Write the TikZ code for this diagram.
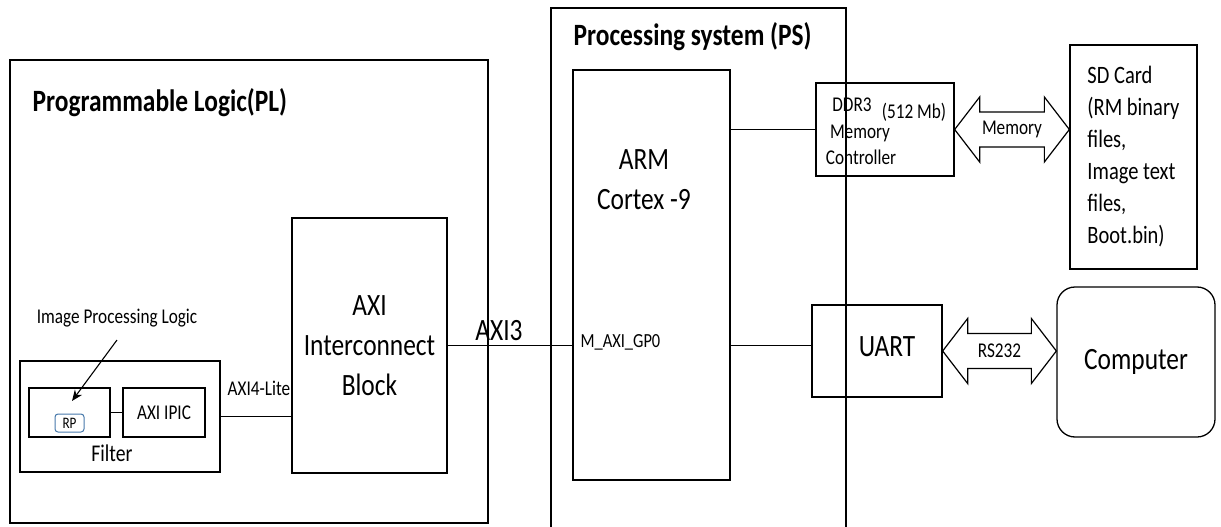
\documentclass[tikz,border=0pt]{standalone}
\usepackage{fontspec}
\setmainfont{Carlito}[FakeStretch=0.82]
\usetikzlibrary{arrows.meta,calc}
\definecolor{rpblue}{RGB}{70,120,170}
\begin{document}
\begin{tikzpicture}[x=1pt,y=-1pt,line width=1.3pt,
  box/.style={draw,line width=1.3pt,inner sep=0pt},
  sz/.style args={#1/#2}{minimum width=#1pt,minimum height=#2pt},
  txt/.style={inner sep=0pt},
  ttl/.style={txt,font=\fontsize{31}{36}\selectfont\bfseries},
  big/.style={font=\fontsize{31}{40}\selectfont},
  sml/.style={font=\fontsize{21}{26}\selectfont},
  tiny/.style={font=\fontsize{20}{24}\selectfont},
  sdf/.style={font=\fontsize{25}{32}\selectfont},
  dblarr/.style={draw,line width=1.2pt}
]
\useasboundingbox (0,0) rectangle (1221,527);

% Programmable Logic frame
\node[box,sz=478/463] (pl) at (249,291.5) {};
\node[ttl,anchor=west] (pltitle) at (32,103) {Programmable Logic(PL)};

% Processing system frame (open at bottom)
\coordinate (psbl) at (551,530);
\coordinate (pstl) at (551,8);
\coordinate (pstr) at (846,8);
\coordinate (psbr) at (846,530);
\draw (psbl) -- (pstl) -- (pstr) -- (psbr);
\node[ttl,anchor=west] (pstitle) at (573,37) {Processing system (PS)};

% ARM
\node[box,sz=157/410] (arm) at (651.5,275) {};
\node[txt,big,align=center] (armlbl) at (644,180) {ARM\\Cortex -9};
\node[txt,tiny,anchor=west] (gp0) at (580,342) {M\_AXI\_GP0};

% AXI Interconnect
\node[box,sz=155/255,big,align=center] (aic) at (369.5,345.5) {AXI\\Interconnect\\Block};

% Filter
\node[box,sz=200/111] (filter) at (120,416.5) {};
\node[txt,font=\fontsize{24}{28}\selectfont] (filterlbl) at (112,453) {Filter};
\node[box,sz=81/49] (rpbox) at (69.5,412.5) {};
\node[draw=rpblue,line width=1pt,rounded corners=3pt,inner sep=0pt,sz=29/18,font=\fontsize{16}{16}\selectfont] (rp) at (69.5,423) {RP};
\node[box,sz=82/49,sml] (ipic) at (164,412.5) {AXI IPIC};
\draw (rpbox.east) -- (ipic.west);

\node[txt,sml] (iplbl) at (117,318) {Image Processing Logic};
\coordinate (ipstart) at (117,340);
\coordinate (iptip) at (72,401);
\draw[line width=1.1pt,-{Stealth[length=11pt,width=9pt]}] (ipstart) -- (iptip);

% AXI4-Lite
\draw (filter.east) -- (filter.east -| aic.west);
\node[txt,sml,anchor=west] (lite) at (227,388) {AXI4-Lite};

% AXI3
\draw (aic.east) -- (aic.east -| arm.west);
\node[txt,big] (axi3) at (499,331) {AXI3};

% DDR
\node[box,sz=138/93] (ddr) at (885,129.5) {};
\node[txt,sml] (ddr3) at (852,105) {DDR3};
\node[txt,sml] (ddrsize) at (914,112) {(512 Mb)};
\node[txt,sml] (ddrmem) at (860,133) {Memory};
\node[txt,sml] (ddrctl) at (861,157) {Controller};
\draw (arm.east |- ddr.west) -- (ddr.west);

% SD Card
\node[box,sz=127/224,sdf,align=left] (sd) at (1133.5,157) {SD Card\\(RM binary\\files,\\Image text\\files,\\Boot.bin)};

% Memory double arrow
\coordinate (m1) at (ddr.east);
\coordinate (m2) at (sd.west |- ddr.east);
\draw[dblarr] (m1) -- ($(m1)+(25,-32.5)$) -- ($(m1)+(25,-17.5)$) -- ($(m2)+(-25,-17.5)$) -- ($(m2)+(-25,-32.5)$) -- (m2) -- ($(m2)+(-25,32.5)$) -- ($(m2)+(-25,17.5)$) -- ($(m1)+(25,17.5)$) -- ($(m1)+(25,32.5)$) -- cycle;
\node[txt,sml] (memlbl) at ($(m1)!0.5!(m2)$) {Memory};

% UART
\node[box,sz=130/92] (uart) at (877,351) {};
\node[txt,big] (uartlbl) at (887,347) {UART};
\draw (arm.east |- aic.east) -- (uart.west |- aic.east);

% Computer
\node[draw,line width=1.3pt,rounded corners=18pt,sz=158/150,big] (comp) at (1136,362) {Computer};

% RS232 double arrow
\coordinate (r1) at (uart.east);
\coordinate (r2) at (comp.west |- uart.east);
\draw[dblarr] (r1) -- ($(r1)+(25,-32.5)$) -- ($(r1)+(25,-17.5)$) -- ($(r2)+(-25,-17.5)$) -- ($(r2)+(-25,-32.5)$) -- (r2) -- ($(r2)+(-25,32.5)$) -- ($(r2)+(-25,17.5)$) -- ($(r1)+(25,17.5)$) -- ($(r1)+(25,32.5)$) -- cycle;
\node[txt,sml] (rslbl) at ($(r1)!0.5!(r2)$) {RS232};
\end{tikzpicture}
\end{document}
